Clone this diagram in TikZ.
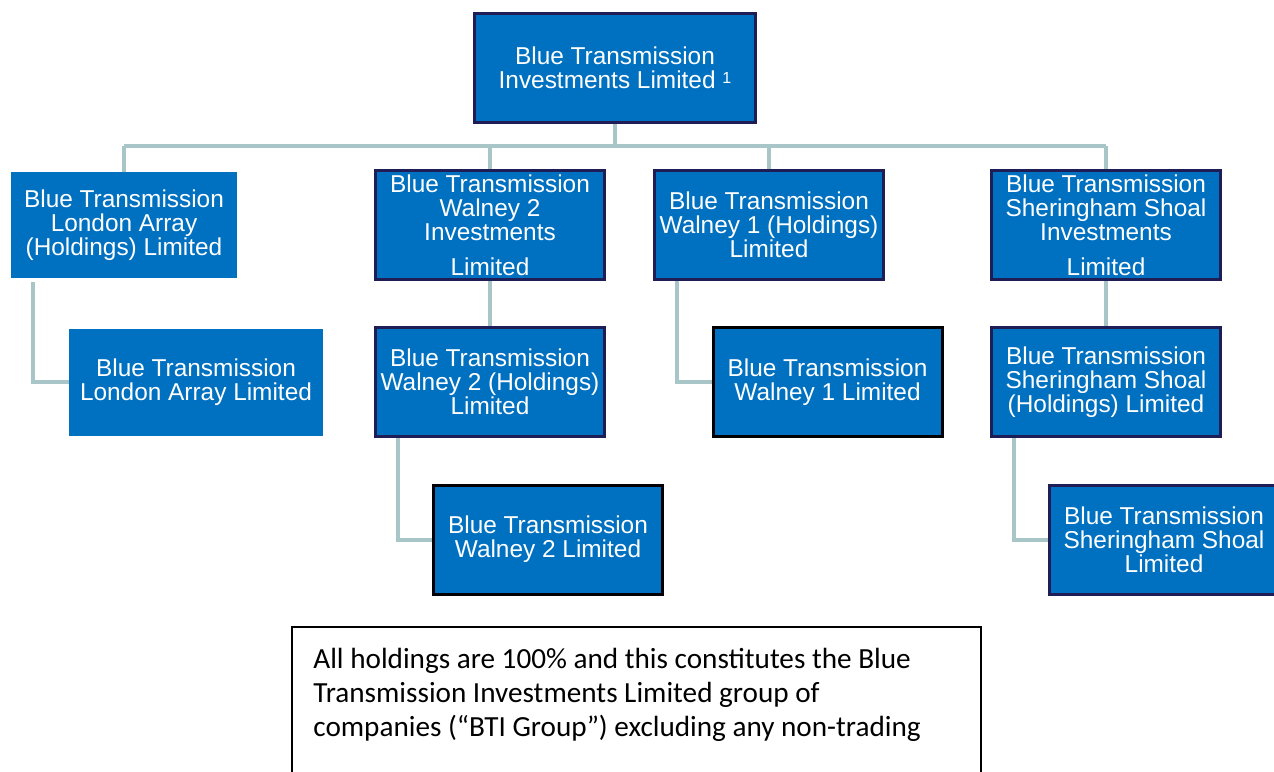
\documentclass[tikz,border=0pt]{standalone}
\usepackage{fontspec}
\setmainfont{Liberation Sans}
\newfontfamily\notefont{Carlito}
\usetikzlibrary{positioning,backgrounds}

\definecolor{btiblue}{HTML}{0070C0}
\definecolor{btinavy}{HTML}{1F1D55}
\definecolor{linkgrey}{HTML}{A8C6C8}

\newcommand{\noteref}[1]{\raisebox{2.5pt}{\fontsize{8}{8}\selectfont #1}}

\tikzset{
	company/.style={fill=btiblue, text=white, align=center, inner sep=0pt,
		font=\fontsize{12.2}{12}\selectfont},
	plainbox/.style={company},
	holdbox/.style={company, draw=btinavy, line width=1.5pt,
		minimum width=114.5pt, minimum height=54.5pt},
	opbox/.style={company, draw=black, line width=1.5pt,
		minimum width=114.5pt, minimum height=54.5pt},
	link/.style={draw=linkgrey, line width=2pt}
}

\begin{document}
\begin{tikzpicture}[x=0.5pt,y=-0.5pt]
	\clip (0,0) rectangle (1274,771);
	
	% parent
	\node[holdbox, minimum width=140.5pt] (top) at (615,68)
		{Blue Transmission\\Investments Limited \noteref{1}};
	
	% first level
	\node[plainbox, minimum width=113pt, minimum height=53pt] (lah) at (124,225)
		{Blue Transmission\\London Array\\(Holdings) Limited};
	\node[holdbox] (w2inv) at (490,225)
		{Blue Transmission\\Walney 2\\Investments\\[5.5pt]Limited};
	\node[holdbox] (w1hold) at (769,225)
		{Blue Transmission\\Walney 1 (Holdings)\\Limited};
	\node[holdbox] (ssinv) at (1106,225)
		{Blue Transmission\\Sheringham Shoal\\Investments\\[5.5pt]Limited};
	
	% second level
	\node[plainbox, minimum width=127pt, minimum height=53.5pt] (lal) at (196,382)
		{Blue Transmission\\London Array Limited};
	\node[holdbox] (w2hold) at (490,382)
		{Blue Transmission\\Walney 2 (Holdings)\\Limited};
	\node[opbox] (w1ltd) at (827.5,382)
		{Blue Transmission\\Walney 1 Limited};
	\node[holdbox] (sshold) at (1106,382)
		{Blue Transmission\\Sheringham Shoal\\(Holdings) Limited};
	
	% third level
	\node[opbox] (w2ltd) at (548,539.5)
		{Blue Transmission\\Walney 2 Limited};
	\node[holdbox] (ssltd) at (1164,539.5)
		{Blue Transmission\\Sheringham Shoal\\Limited};
	
	% connectors
	\begin{scope}[on background layer]
		\coordinate (bus) at (615,146);
		\draw[link] (top.south) -- (top.south |- bus);
		\draw[link] (lah.north |- bus) -- (ssinv.north |- bus);
		\foreach \c in {lah,w2inv,w1hold,ssinv} {
			\draw[link] (\c.north |- bus) -- (\c.north);
		}
		\draw[link] (w2inv.south) -- (w2hold.north);
		\draw[link] (ssinv.south) -- (sshold.north);
		\draw[link] ([xshift=11pt,yshift=-2pt]lah.south west) |- (lal.west);
		\draw[link] ([xshift=12pt]w2hold.south west) |- (w2ltd.west);
		\draw[link] ([xshift=12pt]w1hold.south west) |- (w1ltd.west);
		\draw[link] ([xshift=12pt]sshold.south west) |- (ssltd.west);
	\end{scope}
	
	% footnote box
	\draw[line width=0.6pt] (292,627) rectangle (981,800);
	\node[anchor=north west, align=left, inner sep=0pt,
		font=\notefont\fontsize{14.6}{17.2}\selectfont] (note) at (313,647.5)
		{All holdings are 100\% and this constitutes the Blue\\
		 Transmission Investments Limited group of\\
		 companies (“BTI Group”) excluding any non-trading};
\end{tikzpicture}
\end{document}
